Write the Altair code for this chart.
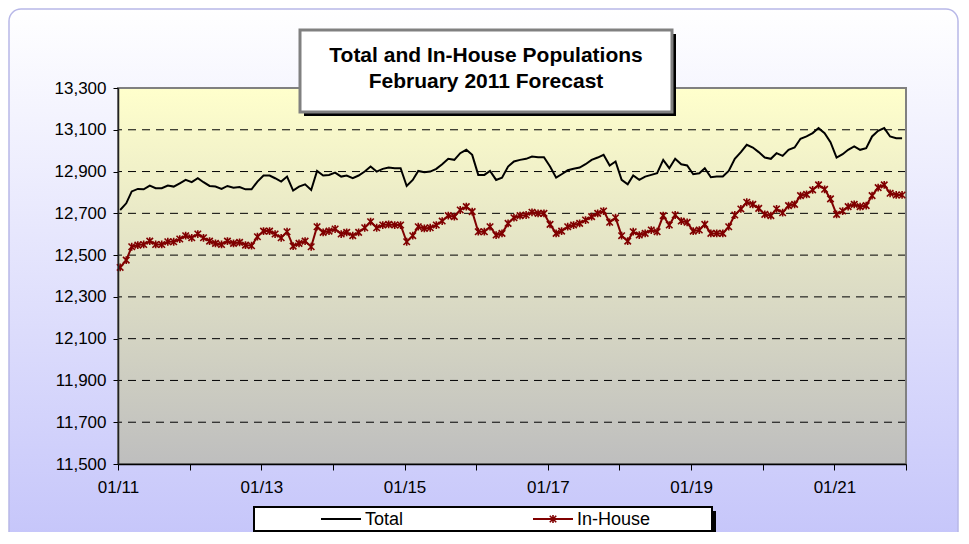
import altair as alt
import pandas as pd

# ---------------- data ----------------
total = [
    12716, 12748, 12805, 12817, 12815, 12833, 12820, 12820, 12833, 12828, 12844, 12860,
    12849, 12868, 12849, 12831, 12828, 12817, 12831, 12823, 12826, 12815, 12815, 12852,
    12881, 12881, 12868, 12852, 12876, 12809, 12828, 12839, 12812, 12903, 12881, 12884,
    12895, 12876, 12881, 12868, 12881, 12900, 12924, 12900, 12913, 12919, 12916, 12916,
    12831, 12860, 12903, 12897, 12900, 12913, 12935, 12961, 12956, 12988, 13004, 12980,
    12884, 12884, 12903, 12860, 12871, 12924, 12948, 12956, 12961, 12972, 12969, 12969,
    12924, 12871, 12887, 12906, 12913, 12919, 12935, 12956, 12967, 12980, 12929, 12948,
    12860, 12839, 12881, 12860, 12876, 12884, 12892, 12956, 12916, 12961, 12935, 12929,
    12887, 12892, 12916, 12873, 12876, 12876, 12903, 12961, 12993, 13028, 13015, 12993,
    12967, 12961, 12988, 12975, 13004, 13015, 13057, 13068, 13084, 13108, 13084, 13041,
    12967, 12983, 13004, 13020, 13004, 13012, 13068, 13095, 13108, 13068, 13060, 13060,
]
in_house = [
    12441, 12476, 12540, 12548, 12551, 12567, 12551, 12551, 12564, 12564, 12577, 12593,
    12583, 12601, 12583, 12567, 12556, 12551, 12567, 12556, 12561, 12548, 12545, 12588,
    12615, 12615, 12601, 12583, 12612, 12543, 12556, 12567, 12540, 12636, 12609, 12615,
    12625, 12601, 12609, 12593, 12609, 12631, 12660, 12631, 12644, 12647, 12644, 12644,
    12564, 12593, 12636, 12628, 12631, 12644, 12663, 12689, 12684, 12716, 12732, 12708,
    12612, 12612, 12636, 12596, 12604, 12652, 12679, 12689, 12692, 12705, 12700, 12700,
    12647, 12604, 12615, 12636, 12644, 12652, 12668, 12684, 12700, 12711, 12657, 12679,
    12593, 12567, 12612, 12596, 12604, 12620, 12612, 12689, 12644, 12692, 12663, 12657,
    12615, 12620, 12647, 12604, 12604, 12604, 12636, 12692, 12721, 12753, 12743, 12724,
    12695, 12689, 12721, 12703, 12737, 12743, 12785, 12791, 12812, 12836, 12815, 12769,
    12695, 12711, 12732, 12743, 12732, 12737, 12785, 12823, 12836, 12796, 12788, 12788,
]
months = [f"{2011 + i // 12}-{i % 12 + 1:02d}-12" for i in range(len(total))]
y_ticks = [11500, 11700, 11900, 12100, 12300, 12500, 12700, 12900, 13100, 13300]
x_tick_years = [2011, 2012, 2013, 2014, 2015, 2016, 2017, 2018, 2019, 2020, 2021, 2022]
title_lines = ["Total and In-House Populations", "February 2011 Forecast"]
series_names = ["Total", "In-House"]

# ---------------- layout ----------------
W, H = 788, 376
PAD = {"left": 110, "top": 80, "right": 54, "bottom": 68}
FONT = "Liberation Sans, Arial, sans-serif"
ASTER = "M-1,-1L1,1M-1,1L1,-1M0,-1.2L0,1.2"

df = pd.DataFrame({"date": months, "Total": total, "InHouse": in_house})
grid_df = pd.DataFrame({"v": y_ticks[1:-1]})
one = pd.DataFrame({"a": [0]})

yscale = alt.Scale(domain=[11500, 13300], nice=False, zero=False)
xscale = alt.Scale(type="utc",
                   domain=[alt.DateTime(year=2011, month=1, date=1, utc=True),
                           alt.DateTime(year=2022, month=1, date=1, utc=True)])
yaxis = alt.Axis(values=y_ticks, labelExpr="format(datum.value, ',')", title=None, grid=False,
                 labelFont=FONT, labelFontSize=17, labelColor="black",
                 tickSize=5, tickColor="black", domainColor="#222222",
                 domainWidth=1.5, labelPadding=7, zindex=1)
xaxis = alt.Axis(values=[alt.DateTime(year=y, month=1, date=1, utc=True) for y in x_tick_years],
                 labelExpr="utcyear(datum.value) % 2 == 1 ? utcFormat(datum.value, '%m/%y') : ''",
                 title=None, grid=False, labelFont=FONT, labelFontSize=17,
                 labelColor="black", tickSize=6, tickColor="black",
                 domainColor="black", domainWidth=1.5, labelPadding=9,
                 labelFlush=False, labelOverlap=False, zindex=1)

X = alt.X("date:T", scale=xscale, axis=xaxis)


def box(x1, x2, y1, y2, **kw):
    return alt.Chart(one).mark_rect(**kw).encode(
        x=alt.value(x1), x2=alt.value(x2), y=alt.value(y1), y2=alt.value(y2))


outer_bg = box(-109, W + 52, -79, H + 90,
               fill=alt.Gradient(gradient="linear",
                                 stops=[alt.GradientStop(offset=0, color="#FFFFFF"),
                                        alt.GradientStop(offset=1, color="#C4C4FA")],
                                 x1=0, x2=0, y1=0, y2=1),
               cornerRadius=12, stroke="#B8B8E8", strokeWidth=1.5)

plot_bg = box(0, W, 0, H,
              fill=alt.Gradient(gradient="linear",
                                stops=[alt.GradientStop(offset=0, color="#FFFFCC"),
                                       alt.GradientStop(offset=1, color="#BEBEBE")],
                                x1=0, x2=0, y1=0, y2=1))

grid = alt.Chart(grid_df).mark_rule(color="black", strokeWidth=1, strokeDash=[8, 6]).encode(
    y=alt.Y("v:Q", scale=yscale, axis=yaxis))

border = box(0, W, 0, H, fillOpacity=0, stroke="#808080", strokeWidth=2)

line_total = alt.Chart(df).mark_line(color="black", strokeWidth=2).encode(
    x=X, y=alt.Y("Total:Q", scale=yscale, axis=yaxis))
line_in = alt.Chart(df).mark_line(color="#800000", strokeWidth=2).encode(
    x=X, y=alt.Y("InHouse:Q", scale=yscale, axis=yaxis))
pts_in = alt.Chart(df).mark_point(shape=ASTER, size=42, filled=False,
                                  stroke="#800000", strokeWidth=1.6, opacity=1).encode(
    x=X, y=alt.Y("InHouse:Q", scale=yscale, axis=yaxis))

# title box
t_shadow = box(186, 558, -54, 28, fill="black")
t_box = box(182, 554, -58, 24, fill="white", stroke="#808080", strokeWidth=3)
t_text1 = alt.Chart(pd.DataFrame({"t": [title_lines[0]]})).mark_text(
    font=FONT, fontSize=21, fontWeight="bold", color="black", align="center",
    baseline="alphabetic").encode(x=alt.value(368), y=alt.value(-26), text="t:N")
t_text2 = alt.Chart(pd.DataFrame({"t": [title_lines[1]]})).mark_text(
    font=FONT, fontSize=21, fontWeight="bold", color="black", align="center",
    baseline="alphabetic").encode(x=alt.value(368), y=alt.value(0), text="t:N")

# legend box
LY = 431
l_shadow = box(140, 598, 423, 447, fill="black")
l_box = box(136, 594, 419, 443, fill="white", stroke="black", strokeWidth=2)
l_line1 = alt.Chart(one).mark_rule(color="black", strokeWidth=2).encode(
    x=alt.value(203), x2=alt.value(243), y=alt.value(LY))
l_line2 = alt.Chart(one).mark_rule(color="#800000", strokeWidth=2).encode(
    x=alt.value(415), x2=alt.value(455), y=alt.value(LY))
l_pt = alt.Chart(one).mark_point(shape=ASTER, size=42, filled=False,
                                 stroke="#800000", strokeWidth=1.6, opacity=1).encode(
    x=alt.value(435), y=alt.value(LY))
l_text1 = alt.Chart(pd.DataFrame({"t": [series_names[0]]})).mark_text(
    font=FONT, fontSize=18, color="black", align="left", baseline="middle").encode(
    x=alt.value(247), y=alt.value(LY + 1), text="t:N")
l_text2 = alt.Chart(pd.DataFrame({"t": [series_names[1]]})).mark_text(
    font=FONT, fontSize=18, color="black", align="left", baseline="middle").encode(
    x=alt.value(459), y=alt.value(LY + 1), text="t:N")

chart = alt.layer(
    outer_bg, plot_bg, grid, border, line_total, line_in, pts_in,
    t_shadow, t_box, t_text1, t_text2,
    l_shadow, l_box, l_line1, l_line2, l_pt, l_text1, l_text2,
).properties(
    width=W, height=H,
    autosize=alt.AutoSizeParams(type="none"),
    padding=PAD,
    background="white",
).configure_view(strokeWidth=0)

chart.save("out.html", embed_options={"renderer": "svg", "actions": False})
